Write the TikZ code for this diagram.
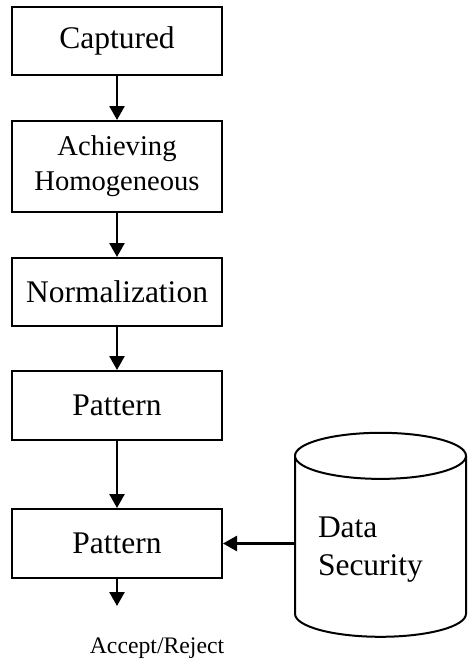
\documentclass[tikz,border=0pt]{standalone}
\usepackage{fontspec}
\setmainfont{Liberation Serif}
\usetikzlibrary{arrows.meta,shapes.geometric}

\begin{document}
\begin{tikzpicture}[
  x=1pt,
  y=-1pt,
  box/.style={draw=black, line width=2pt, minimum width=210pt, minimum height=68pt, inner sep=0pt, font=\fontsize{31.5}{38}\selectfont},
  flow/.style={line width=2.6pt, -{Triangle[length=14pt,width=15pt]}},
  store/.style={cylinder, shape border rotate=90, draw=black, line width=2pt, aspect=0.35, minimum width=171pt, minimum height=204pt, text width=125pt, align=left, font=\fontsize{31.5}{38}\selectfont}
]
\useasboundingbox (0,0) rectangle (467,661);
\node[box] (cap) at (117,41) {Captured};
\node[box, minimum height=91pt, align=center, font=\fontsize{28.6}{35}\selectfont] (hom) at (117,166.5) {Achieving\\Homogeneous};
\node[box] (norm) at (117,292) {Normalization};
\node[box, minimum height=69pt] (pat1) at (117,405.5) {Pattern};
\node[box, minimum height=69pt] (pat2) at (117,543.5) {Pattern};
\node[store] (db) at (380.5,550) {Data\\Security};
\coordinate (out) at (117,606);
\node[font=\fontsize{23.7}{28}\selectfont] (res) at (157,648) {Accept/Reject};
\foreach \a/\b in {cap/hom, hom/norm, norm/pat1, pat1/pat2}
  \draw[flow] (\a) -- (\b);
\draw[flow] (pat2) -- (out);
\draw[flow] (db.west |- pat2) -- (pat2);
\end{tikzpicture}
\end{document}
